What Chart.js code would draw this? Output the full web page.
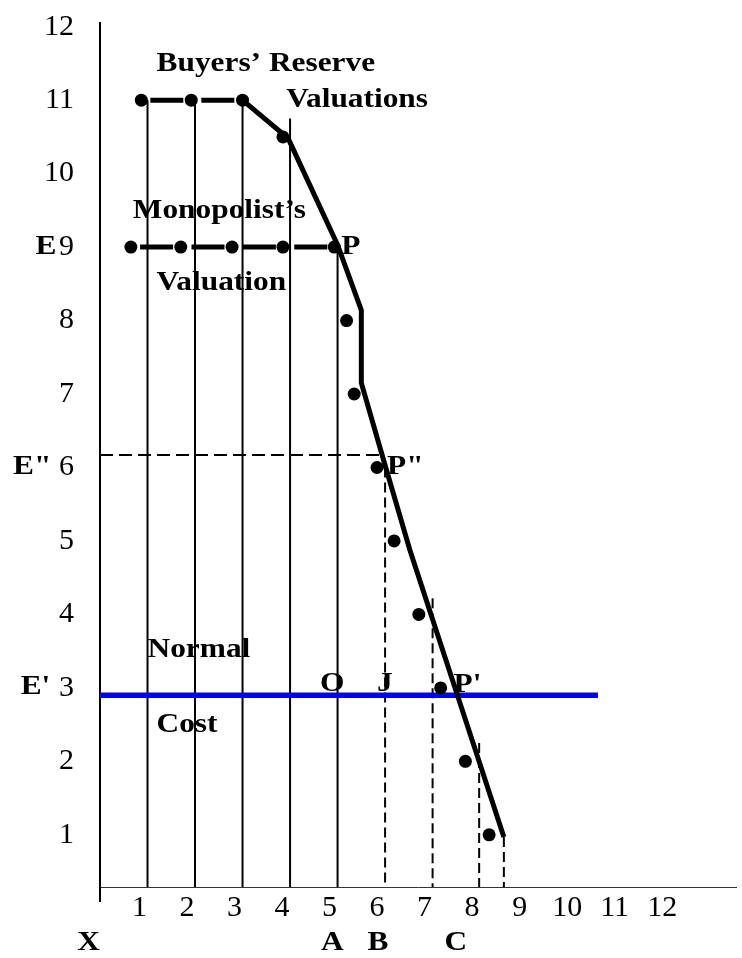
<!DOCTYPE html>
<html>
<head>
<meta charset="utf-8">
<script src="https://cdn.jsdelivr.net/npm/chart.js@4.4.1/dist/chart.umd.min.js"></script>
<style>
  html, body { margin: 0; padding: 0; background: #fff; }
  #wrap { width: 742px; height: 958px; }
</style>
</head>
<body>
<div id="wrap"><canvas id="chart" width="742" height="958"></canvas></div>
<script>
// Values.
const xTickLabels = [1, 2, 3, 4, 5, 6, 7, 8, 9, 10, 11, 12];
const yTickLabels = [1, 2, 3, 4, 5, 6, 7, 8, 9, 10, 11, 12];

// dots as [units, valuation]
const buyersDots = [[0.87, 11], [1.92, 11], [3.0, 11], [3.85, 10.5]];
const monopolistDots = [[0.65, 9], [1.70, 9], [2.78, 9], [3.85, 9], [4.93, 9]];
const lowerDots = [[5.19, 8], [5.35, 7], [5.83, 6], [6.19, 5], [6.71, 4], [7.17, 3], [7.69, 2], [8.19, 1]];

// thick demand curve
const demandCurve = [[3.0, 11], [3.96, 10.48], [5.0, 9.03], [5.5, 8.14], [5.5, 7.15], [6.0, 6.03], [6.52, 4.88], [8.5, 0.97]];

// horizontal levels
const normalCost = 2.9;
const normalCostEnd = 10.48;
const eDoublePrime = 6.17;
const eDoublePrimeEnd = 5.98;

// drop lines as [x, top]
const solidDrops = [[1, 11], [2, 11], [3, 11], [4, 10.75], [5, 9]];
const dashedDrops = [[6, 6.0], [7, 4.22], [7.98, 2.25], [8.5, 0.97]];

const xMax = 13.375;
const yMin = 0.29;
const yMax = 12.05;

// text labels placed in data units
const notes = [
  { text: 'Buyers’ Reserve', x: 1.19, y: 11.5 },
  { text: 'Valuations', x: 3.92, y: 11.0 },
  { text: 'Monopolist’s', x: 0.69, y: 9.5 },
  { text: 'Valuation', x: 1.19, y: 8.51 },
  { text: 'E', x: -1.36, y: 9.0 },
  { text: 'P', x: 5.08, y: 9.0 },
  { text: 'E"', x: -1.83, y: 6.01 },
  { text: 'P"', x: 6.04, y: 6.01 },
  { text: 'Normal', x: 1.0, y: 3.52 },
  { text: "E'", x: -1.67, y: 3.01 },
  { text: 'O', x: 4.63, y: 3.06, under: true },
  { text: 'J', x: 5.83, y: 3.06, under: true },
  { text: "P'", x: 7.44, y: 3.04 },
  { text: 'Cost', x: 1.19, y: 2.5 },
  { text: 'X', x: -0.48, y: -0.47 },
  { text: 'A', x: 4.65, y: -0.47 },
  { text: 'B', x: 5.63, y: -0.47 },
  { text: 'C', x: 7.25, y: -0.47 }
];

const serif = '"Liberation Serif", "Times New Roman", serif';

function line(pts, style) {
  return Object.assign({
    data: pts.map(p => ({ x: p[0], y: p[1] })),
    showLine: true,
    pointRadius: 0,
    pointHoverRadius: 0,
    fill: false,
    tension: 0,
    borderColor: '#000'
  }, style);
}

const datasets = [];
// dots on top
datasets.push({
  data: buyersDots.concat(monopolistDots, lowerDots).map(p => ({ x: p[0], y: p[1] })),
  showLine: false,
  pointRadius: 6.5,
  pointBorderWidth: 0,
  pointBackgroundColor: '#000',
  order: 0
});
// thick dashed runs between the dots
datasets.push(line([buyersDots[0], buyersDots[2]], {
  borderWidth: 5, borderDash: [33, 18], borderDashOffset: 42, order: 1
}));
datasets.push(line([monopolistDots[0], monopolistDots[monopolistDots.length - 1]], {
  borderWidth: 5, borderDash: [33, 18.4], borderDashOffset: 42.2, order: 1
}));
// demand curve
datasets.push(line(demandCurve, { borderWidth: 5, order: 2 }));
// normal cost
datasets.push(line([[0, normalCost], [normalCostEnd, normalCost]], {
  borderWidth: 5.5, borderColor: '#0000ff', order: 3
}));
// dashed thin lines
dashedDrops.forEach(d => {
  datasets.push(line([[d[0], d[1]], [d[0], yMin]], { borderWidth: 2, borderDash: [10, 5], order: 4 }));
});
datasets.push(line([[0, eDoublePrime], [eDoublePrimeEnd, eDoublePrime]], {
  borderWidth: 2, borderDash: [13, 6], order: 4
}));
// solid thin lines
solidDrops.forEach(d => {
  datasets.push(line([[d[0], d[1]], [d[0], yMin]], { borderWidth: 2, order: 5 }));
});

function drawNotes(chart, under) {
  const ctx = chart.ctx;
  const xs = chart.scales.x;
  const ys = chart.scales.y;
  ctx.save();
  ctx.fillStyle = '#000';
  ctx.font = 'bold 28px ' + serif;
  ctx.textAlign = 'left';
  ctx.textBaseline = 'middle';
  notes.forEach(n => {
    if (!!n.under !== under) return;
    ctx.save();
    ctx.translate(xs.getPixelForValue(n.x), ys.getPixelForValue(n.y));
    ctx.scale(1.12, 1);
    ctx.fillText(n.text, 0, 0);
    ctx.restore();
  });
  ctx.restore();
}

const notesPlugin = {
  id: 'notes',
  beforeDatasetsDraw(chart) { drawNotes(chart, true); },
  afterDatasetsDraw(chart) { drawNotes(chart, false); }
};

const tickFont = { family: serif, size: 30 };

new Chart(document.getElementById('chart'), {
  type: 'scatter',
  data: { datasets: datasets },
  options: {
    responsive: false,
    animation: false,
    devicePixelRatio: 1,
    layout: { padding: { top: 23, left: 0, right: 0, bottom: 0 } },
    plugins: { legend: { display: false }, tooltip: { enabled: false } },
    events: [],
    scales: {
      x: {
        type: 'linear',
        position: 'bottom',
        min: 0,
        max: xMax,
        afterBuildTicks: s => { s.ticks = [0].concat(xTickLabels).map(v => ({ value: v })); },
        afterFit: s => { s.height = 71; s.paddingLeft = 0; s.paddingRight = 0; },
        ticks: {
          callback: v => (v === 0 ? '' : String(v)),
          font: tickFont,
          color: '#000',
          padding: -12,
          labelOffset: -8,
          maxRotation: 0,
          autoSkip: false
        },
        grid: {
          display: true,
          drawOnChartArea: false,
          drawTicks: true,
          tickLength: 15,
          color: c => (c.tick && c.tick.value === 0 ? '#000' : 'rgba(0,0,0,0)'),
          lineWidth: c => (c.tick && c.tick.value === 0 ? 2 : 1)
        },
        border: { display: true, color: '#333', width: 1 }
      },
      y: {
        type: 'linear',
        min: yMin,
        max: yMax,
        afterBuildTicks: s => { s.ticks = yTickLabels.map(v => ({ value: v })); },
        afterFit: s => { s.width = 100; s.paddingTop = 0; s.paddingBottom = 0; },
        ticks: {
          font: tickFont,
          color: '#000',
          padding: 26,
          autoSkip: false
        },
        grid: { display: false, drawTicks: false },
        border: { display: true, color: '#000', width: 2 }
      }
    }
  },
  plugins: [notesPlugin]
});
</script>
</body>
</html>
